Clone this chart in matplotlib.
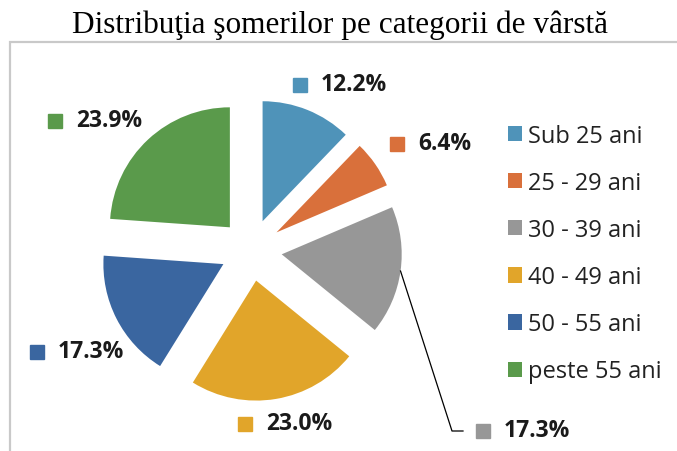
import numpy as np
import matplotlib.pyplot as plt
from matplotlib.patches import Rectangle

# Data
categories = ['Sub 25 ani', '25 - 29 ani', '30 - 39 ani', '40 - 49 ani', '50 - 55 ani', 'peste 55 ani']
shares = [12.2, 6.4, 17.3, 23.0, 17.3, 23.9]
colors = ['#4f93b9', '#d9703b', '#979797', '#e1a52a', '#3a66a0', '#5a9a4b']
title = 'Distribuţia şomerilor pe categorii de vârstă'

W, H = 677, 452

# Layout in picture pixels (y measured from the top)
pie_center = (251, 251)
pie_radius = 120
pie_explode = 31
label_pos = [(300, 86), (397, 145), (483, 432), (245, 425), (37, 353), (55, 122)]

fig = plt.figure(figsize=(W / 100, H / 100), dpi=100)
ax = fig.add_axes([0, 0, 1, 1])


def py(y):
    return H - y


wedges, _ = ax.pie(shares, colors=colors, startangle=90, counterclock=False,
                   center=(pie_center[0], py(pie_center[1])), radius=pie_radius,
                   explode=[pie_explode] * len(shares), frame=True,
                   wedgeprops=dict(linewidth=0))
ax.set_xlim(0, W)
ax.set_ylim(0, H)
ax.set_aspect('equal')
ax.axis('off')

# chart area border (top and left edges visible)
ax.add_patch(Rectangle((10, -10), W + 20, py(43) + 10, fill=False,
                       edgecolor='#c9c9c9', linewidth=1.6))

ax.text(W / 2 + 1, py(25), title, ha='center', va='center',
        fontsize=22.5, family='Liberation Serif', color='black')

# data labels
for i, val in enumerate(shares):
    lx, ly = label_pos[i]
    ax.plot(lx, py(ly), marker='s', markersize=10, color=colors[i], linestyle='none')
    ax.text(lx + 21, py(ly) + 1, f'{val:.1f}%', ha='left', va='center',
            fontsize=16.5, fontweight='bold', family='Open Sans', color='#1a1a1a')

# leader line for the 30 - 39 slice
w = wedges[2]
mid = np.deg2rad((w.theta1 + w.theta2) / 2)
x0 = w.center[0] + w.r * np.cos(mid)
y0 = w.center[1] + w.r * np.sin(mid)
lx, ly = label_pos[2]
ax.plot([x0, lx - 31, lx - 20], [y0, py(ly), py(ly)], color='black', linewidth=0.9)

leg = ax.legend(wedges, categories, loc='upper left', bbox_to_anchor=(496 / W, py(113) / H),
                frameon=False, prop={'family': 'Open Sans', 'size': 17},
                handlelength=0.62, handleheight=0.62, handletextpad=0.22, labelspacing=0.98,
                borderpad=0)
for t in leg.get_texts():
    t.set_color('#222222')

fig.savefig('out.png', dpi=100)
